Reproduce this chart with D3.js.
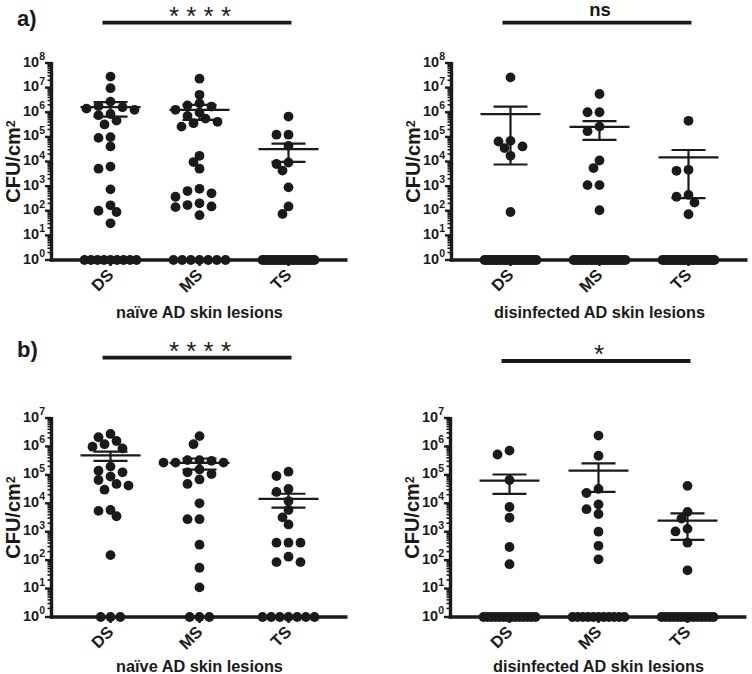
<!DOCTYPE html>
<html><head><meta charset="utf-8">
<script src="https://cdn.jsdelivr.net/npm/d3@7"></script>
<style>
body{margin:0;background:#fff}
svg{display:block}
text{font-family:"Liberation Sans",Arial,Helvetica,sans-serif;fill:#1a1a1a}
</style>
</head><body>
<svg id="chart" width="752" height="674"></svg>
<script>
const categories = ["DS", "MS", "TS"];
const yTickExpA = [0, 1, 2, 3, 4, 5, 6, 7, 8];
const yTickExpB = [0, 1, 2, 3, 4, 5, 6, 7];
const zeros = n => Array(n).fill(0);

// a) naïve AD skin lesions
const aNaiveDS = [2.8e7, 9.5e6, 2.7e6, 1.8e6, 1.4e6, 1.26e6, 1.6e6, 7.6e5, 8.5e5, 3.2e5, 4.6e5, 9.1e4, 9.8e4, 4.1e4, 5.1e3, 6.2e3, 740, 100, 89, 166, 31, ...zeros(9)];
const aNaiveMS = [2.3e7, 5.1e6, 2.3e6, 1.9e6, 1.7e6, 1.26e6, 7.1e5, 9.8e5, 5.5e5, 4.1e5, 2.6e5, 3.6e5, 1.7e4, 9.5e3, 5.1e3, 780, 630, 510, 370, 170, 140, 200, 150, 66, ...zeros(7)];
const aNaiveTS = [6.7e5, 1.23e5, 1.23e5, 4.3e4, 7.9e3, 9.1e3, 4.3e3, 890, 150, 74, ...zeros(21)];
// a) disinfected AD skin lesions
const aDisDS = [2.6e7, 6.9e4, 6.5e4, 4.1e4, 3.5e4, 1.7e4, 89, ...zeros(24)];
const aDisMS = [5.5e6, 1.0e6, 1.0e6, 1.7e5, 2.6e5, 1.1e4, 5.4e3, 1.1e3, 1.1e3, 105, ...zeros(21)];
const aDisTS = [4.5e5, 4.6e3, 4.2e3, 370, 440, 214, 72, ...zeros(24)];
// b) naïve AD skin lesions
const bNaiveDS = [2.75e6, 1.55e6, 2.1e6, 9.8e5, 8.5e5, 1.2e6, 1.4e5, 1.23e5, 1.95e5, 6.6e4, 8.7e4, 4.2e4, 3.0e4, 4.8e4, 5.8e3, 3.5e3, 5.4e3, 150, ...zeros(3)];
const bNaiveMS = [2.3e6, 1.2e6, 3.3e5, 2.7e5, 2.7e5, 3.3e5, 2.7e5, 3.1e5, 1.07e5, 1.55e5, 1.23e5, 4.8e4, 6.9e4, 1.0e4, 2.75e3, 2.75e3, 350, 54, 11, ...zeros(3)];
const bNaiveTS = [1.29e5, 9.1e4, 3.2e4, 2.5e4, 1.2e4, 5.8e3, 3.2e3, 1.8e3, 410, 410, 410, 85, 85, 132, ...zeros(7)];
// b) disinfected AD skin lesions
const bDisDS = [7.1e5, 5.2e5, 6.6e4, 7.4e3, 3.1e3, 290, 72, ...zeros(14)];
const bDisMS = [2.4e6, 4.7e5, 3.2e4, 2.3e4, 9.1e3, 6.2e3, 4.2e3, 1.0e3, 320, 107, ...zeros(11)];
const bDisTS = [4.1e4, 5.0e3, 2.9e3, 1.02e3, 1.26e3, 410, 44, ...zeros(14)];

const sigLabels = ["* * * *", "ns", "* * * *", "*"];
const xTitles = ["naïve AD skin lesions", "disinfected AD skin lesions", "naïve AD skin lesions", "disinfected AD skin lesions"];
const yTitle = "CFU/cm";
const rowLabels = ["a)", "b)"];

const svg = d3.select("#chart");
const INK = "#1a1a1a";
const R = 4.9;

const layouts = [
  {axisX: 51.5, top: 63, bottom: 260, exps: yTickExpA, data: [aNaiveDS, aNaiveMS, aNaiveTS], sig: sigLabels[0], title: xTitles[0], barY: 22.7, titleY: 318},
  {axisX: 451.5, top: 63, bottom: 260, exps: yTickExpA, data: [aDisDS, aDisMS, aDisTS], sig: sigLabels[1], title: xTitles[1], barY: 22.7, titleY: 318},
  {axisX: 51.5, top: 418, bottom: 617, exps: yTickExpB, data: [bNaiveDS, bNaiveMS, bNaiveTS], sig: sigLabels[2], title: xTitles[2], barY: 357.7, titleY: 672},
  {axisX: 450.5, top: 418, bottom: 617, exps: yTickExpB, data: [bDisDS, bDisMS, bDisTS], sig: sigLabels[3], title: xTitles[3], barY: 361, titleY: 672}
];

function swarm(vals, cx, y, r, step) {
  const placed = [];
  const sorted = vals.filter(v => v > 0).sort((a, b) => b - a);
  for (const v of sorted) {
    const py = y(v);
    for (let k = 0; k < 60; k++) {
      const off = k === 0 ? 0 : (k % 2 ? -1 : 1) * Math.ceil(k / 2) * step;
      const px = cx + off;
      if (placed.every(p => (p[0] - px) ** 2 + (p[1] - py) ** 2 >= (2 * r * 0.86) ** 2)) {
        placed.push([px, py]);
        break;
      }
    }
  }
  return placed;
}

layouts.forEach((L, pi) => {
  const g = svg.append("g");
  const maxExp = d3.max(L.exps);
  const x = d3.scalePoint().domain(categories).range([L.axisX, L.axisX + 296]).padding(0.663);
  const y = d3.scaleLog().domain([1, Math.pow(10, maxExp)]).range([L.bottom, L.top]).clamp(true);

  // minor ticks
  const minor = [];
  for (let k = 0; k < maxExp; k++) for (let m = 2; m <= 9; m++) minor.push(m * Math.pow(10, k));
  g.selectAll(".minor").data(minor).join("line")
    .attr("x1", L.axisX - 4).attr("x2", L.axisX)
    .attr("y1", d => y(d)).attr("y2", d => y(d))
    .attr("stroke", INK).attr("stroke-width", 1.6);
  // major ticks
  g.selectAll(".major").data(L.exps).join("line")
    .attr("x1", L.axisX - 6.5).attr("x2", L.axisX)
    .attr("y1", d => y(Math.pow(10, d))).attr("y2", d => y(Math.pow(10, d)))
    .attr("stroke", INK).attr("stroke-width", 2.4);
  // y axis line
  g.append("line").attr("x1", L.axisX).attr("x2", L.axisX)
    .attr("y1", L.top - 1).attr("y2", L.bottom + 1.5)
    .attr("stroke", INK).attr("stroke-width", 3.4);
  // tick labels
  const tl = g.selectAll(".tl").data(L.exps).join("text")
    .attr("x", L.axisX - 6.5).attr("y", d => y(Math.pow(10, d)) + 3.5)
    .attr("text-anchor", "end").attr("font-weight", "bold").attr("font-size", 14.5);
  tl.append("tspan").text("10");
  tl.append("tspan").attr("font-size", 10.5).attr("dy", -6.5).text(d => d);

  // x axis
  g.append("line").attr("x1", L.axisX - 1.7).attr("x2", L.axisX + 296)
    .attr("y1", L.bottom).attr("y2", L.bottom)
    .attr("stroke", INK).attr("stroke-width", 3.4);
  g.selectAll(".xt").data(categories).join("line")
    .attr("x1", d => x(d)).attr("x2", d => x(d))
    .attr("y1", L.bottom).attr("y2", L.bottom + 6)
    .attr("stroke", INK).attr("stroke-width", 2.4);
  g.selectAll(".xl").data(categories).join("text")
    .attr("transform", d => `translate(${x(d) + 4},${L.bottom + 16}) rotate(-45)`)
    .attr("text-anchor", "end").attr("font-weight", "bold").attr("font-size", 16.5)
    .text(d => d);

  // y title
  const yt = g.append("text")
    .attr("transform", `translate(${L.axisX - 31.5},${(L.top + L.bottom) / 2}) rotate(-90)`)
    .attr("text-anchor", "middle").attr("font-weight", "bold").attr("font-size", 20);
  yt.append("tspan").text(yTitle);
  yt.append("tspan").attr("font-size", 12.5).attr("dy", -5).text("2");

  // x title
  g.append("text").attr("x", x("MS")).attr("y", L.titleY)
    .attr("text-anchor", "middle").attr("font-weight", "bold").attr("font-size", 16.3)
    .text(L.title);

  // significance bar
  const bx1 = x("DS") - 8, bx2 = x("TS") + 3;
  g.append("line").attr("x1", bx1).attr("x2", bx2).attr("y1", L.barY).attr("y2", L.barY)
    .attr("stroke", INK).attr("stroke-width", 3.8);
  const isNs = L.sig === "ns";
  g.append("text").attr("x", (bx1 + bx2) / 2 + 3)
    .attr("y", isNs ? L.barY - 6.5 : L.barY + 2)
    .attr("text-anchor", "middle")
    .attr("font-weight", isNs ? "bold" : "normal")
    .attr("font-size", isNs ? 18.5 : 26)
    .text(L.sig);

  // dots
  categories.forEach((c, ci) => {
    const vals = L.data[ci];
    const cx = x(c);
    const pts = swarm(vals, cx, y, R, 6);
    const n0 = vals.filter(v => v <= 0).length;
    const sp = n0 > 1 ? Math.min(2 * R, 52 / (n0 - 1)) : 0;
    d3.range(n0).forEach(i => pts.push([cx + (i - (n0 - 1) / 2) * sp, y(1)]));
    g.selectAll(null).data(pts).join("circle")
      .attr("cx", d => d[0]).attr("cy", d => d[1]).attr("r", R).attr("fill", INK);

    const mean = d3.mean(vals);
    const sem = d3.deviation(vals) / Math.sqrt(vals.length);
    const ym = y(mean), yu = y(mean + sem), yl = y(Math.max(1, mean - sem));
    g.append("line").attr("x1", cx - 30).attr("x2", cx + 30).attr("y1", ym).attr("y2", ym)
      .attr("stroke", INK).attr("stroke-width", 2.2);
    g.append("line").attr("x1", cx - 17).attr("x2", cx + 17).attr("y1", yu).attr("y2", yu)
      .attr("stroke", INK).attr("stroke-width", 2.2);
    g.append("line").attr("x1", cx - 17).attr("x2", cx + 17).attr("y1", yl).attr("y2", yl)
      .attr("stroke", INK).attr("stroke-width", 2.2);
    g.append("line").attr("x1", cx).attr("x2", cx).attr("y1", yu).attr("y2", yl)
      .attr("stroke", INK).attr("stroke-width", 2.2);
  });
});

// row labels
svg.append("text").attr("x", 17).attr("y", 26).attr("font-weight", "bold").attr("font-size", 22).text(rowLabels[0]);
svg.append("text").attr("x", 17).attr("y", 357).attr("font-weight", "bold").attr("font-size", 22).text(rowLabels[1]);
</script>
</body></html>
